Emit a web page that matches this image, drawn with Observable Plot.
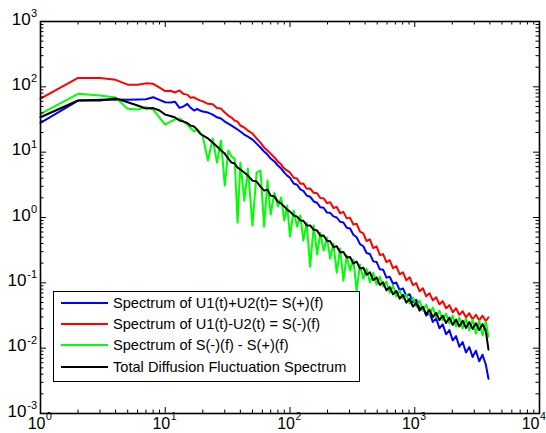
<!DOCTYPE html>
<html>
<head>
<meta charset="utf-8">
<script src="https://cdn.jsdelivr.net/npm/d3@7"></script>
<script src="https://cdn.jsdelivr.net/npm/@observablehq/plot@0.6"></script>
<style>
  html, body { margin: 0; padding: 0; background: white; }
  #wrap { position: relative; width: 546px; height: 433px; overflow: hidden; font-family: "Liberation Sans", Arial, sans-serif; }
  #legend { position: absolute; left: 53px; top: 291px; width: 307px; height: 91px; border: 1px solid black; background: white; box-sizing: border-box; }
  .row { position: absolute; left: 0; height: 20px; display: flex; align-items: center; }
  .sw { width: 47px; height: 0; border-top: 2px solid; margin-left: 7px; margin-right: 5px; }
  .lbl { font-size: 14.6px; color: #000; white-space: nowrap; }
</style>
</head>
<body>
<div id="wrap"><div id="chart"></div><div id="legend"></div></div>
<script>
// Frequency samples (Hz)
const freq = [1,2,3,4,5,6,7,8,9,10,11,12,13,14,15,16,17,18,19,20,
  22,24,26,28,30,32,34,36,38,40,43,46,50,54,58,62,66,70,75,80,85,90,95,
  100,107,114,121,128,136,145,155,165,175,186,198,210,223,237,252,268,285,303,322,342,364,387,411,437,465,494,
  525,558,593,630,670,712,757,805,856,910,967,1028,1093,1162,1235,1313,1396,1484,1577,1677,1783,1895,2015,2142,2277,2421,2573,2736,2908,3092,3287,3494,3715,3900];

// Spectrum of U1(t)+U2(t) = S(+)(f)
const sPlus = [28.1,61.7,63.2,63.9,63.2,63.9,64.6,69.3,63.2,58.1,57.5,58.9,47.7,49.9,54.9,47.7,43.4,46.0,43.4,41.9,
  40.4,37.6,34.2,32.7,29.4,27.4,25.5,23.8,22.2,20.7,18.6,17.3,15.6,13.5,11.8,10.2,9.19,7.98,7.19,6.25,5.61,4.87,4.38,
  4.06,3.32,3.17,2.69,2.56,2.17,2.08,1.76,1.68,1.43,1.41,1.19,1.18,1.04,1.0,0.861,0.839,0.697,0.679,0.544,0.499,0.392,0.363,0.286,0.277,0.213,0.209,
  0.161,0.159,0.12,0.124,0.0967,0.101,0.0776,0.082,0.0628,0.0669,0.0503,0.0548,0.0403,0.0428,0.0315,0.035,0.0252,0.0286,0.0202,0.0231,0.0163,0.0189,0.0131,0.0153,0.0105,0.0124,0.0086,0.0104,0.00734,0.00915,0.0063,0.00794,0.00557,0.0034];

// Spectrum of U1(t)-U2(t) = S(-)(f)
const sMinus = [66,137,137,128,108,108,113,111,97,86,87,82,88,78,76,68,69,65,62,60,
  55,54,47.3,46.5,40.4,36.3,33.9,30.5,29.4,25.6,23.8,21.4,19.3,16.2,14.0,11.8,10.6,9.5,8.3,7.2,6.46,5.61,5.23,
  4.89,4.06,3.95,3.28,3.32,2.76,2.78,2.39,2.35,1.99,1.97,1.66,1.71,1.40,1.45,1.16,1.22,0.97,0.995,0.777,0.805,0.607,0.570,0.437,0.462,0.341,0.361,
  0.267,0.275,0.207,0.222,0.167,0.180,0.135,0.145,0.109,0.122,0.0919,0.0988,0.0742,0.0827,0.0622,0.0694,0.054,0.0603,0.0469,0.0524,0.0408,0.0455,0.0354,0.0409,0.0324,0.0367,0.0297,0.0343,0.0277,0.0325,0.0267,0.0314,0.0258,0.0297];

// Spectrum of S(-)(f) - S(+)(f)
const sDiff = [38.6,78.2,73.6,68.6,46.0,44.9,48.7,44.9,33.9,26.5,29.4,31.6,32.7,29.4,26.5,23.4,20.7,22.2,20.0,17.3,
  7.44,16.2,6.93,15.1,3.08,10.6,8.57,7.98,0.835,6.93,1.81,5.61,0.752,4.87,5.23,0.726,3.67,1.11,2.40,1.47,2.02,0.897,1.52,
  0.510,1.28,0.726,1.07,0.443,0.835,0.177,0.752,0.27,0.587,0.311,0.492,0.235,0.398,0.143,0.334,0.108,0.261,0.154,0.227,0.076,0.19,0.116,0.165,0.101,0.143,0.0942,
  0.124,0.0877,0.105,0.0708,0.0908,0.0615,0.076,0.0574,0.066,0.0484,0.0593,0.0432,0.0535,0.0376,0.0464,0.0338,0.0418,0.0294,0.0376,0.0265,0.0338,0.0238,0.0315,0.0214,0.0294,0.02,0.0283,0.0186,0.0273,0.0167,0.0264,0.0156,0.0255,0.0149];

// Total Diffusion Fluctuation Spectrum
const sTotal = [34.2,61.7,61.7,66.5,58.1,51.7,46.5,47.3,43.4,37.6,35.7,33.9,30.5,29.4,27.9,25.5,24.7,22.2,19.3,18.0,
  16.2,14.0,12.2,10.6,9.52,7.98,6.93,6.70,5.81,5.42,4.87,4.38,3.67,3.55,2.97,2.58,2.67,2.16,2.09,1.75,1.63,1.47,1.32,
  1.23,1.08,1.03,0.901,0.891,0.755,0.755,0.649,0.632,0.525,0.530,0.441,0.434,0.352,0.363,0.295,0.297,0.245,0.249,0.198,0.211,0.165,0.170,0.133,0.145,0.110,0.121,
  0.0929,0.102,0.0769,0.0858,0.0667,0.0752,0.0573,0.0653,0.0498,0.0567,0.0433,0.0493,0.0375,0.0428,0.0332,0.0385,0.0299,0.0347,0.0269,0.0314,0.0243,0.0293,0.0227,0.0273,0.0215,0.0263,0.0204,0.025,0.0197,0.0241,0.019,0.0233,0.0183,0.0095];

const seriesNames = [
  "Spectrum of U1(t)+U2(t)= S(+)(f)",
  "Spectrum of U1(t)-U2(t) = S(-)(f)",
  "Spectrum of S(-)(f) - S(+)(f)",
  "Total Diffusion Fluctuation Spectrum"
];
const seriesColors = ["#0000ff", "#ff0000", "#00ff00", "#000000"];
const seriesValues = [sPlus, sMinus, sDiff, sTotal];

const xMajor = [1, 10, 100, 1000, 10000];
const xExp = ["0", "1", "2", "3", "4"];
const yMajor = [1e-3, 1e-2, 1e-1, 1, 10, 100, 1000];
const yExp = ["-3", "-2", "-1", "0", "1", "2", "3"];
const minorMult = [2, 3, 4, 5, 6, 7, 8, 9];

const data = seriesValues.map((vals, i) => freq.map((f, j) => ({f, v: vals[j], s: seriesNames[i]})));
const xMinor = xMajor.slice(0, -1).flatMap(d => minorMult.map(m => d * m));
const yMinor = yMajor.slice(0, -1).flatMap(d => minorMult.map(m => d * m));

const mL = 40, mR = 7, mT = 21, mB = 20;
const W = 546, H = 433;
const fw = W - mL - mR, fh = H - mT - mB;
const majLen = 6, minLen = 3.5;
const font = "Liberation Sans, Arial, sans-serif";

const xLab = xMajor.map((d, i) => ({d, e: xExp[i], last: i === xMajor.length - 1}));
const yLab = yMajor.map((d, i) => ({d, e: yExp[i], neg: yExp[i].startsWith("-")}));

const xBase = {x: "d", frameAnchor: "bottom", lineAnchor: "top", fill: "black"};

const chart = Plot.plot({
  width: W, height: H,
  marginLeft: mL, marginRight: mR, marginTop: mT, marginBottom: mB,
  x: {type: "log", domain: [1, 1e4], axis: null},
  y: {type: "log", domain: [1e-3, 1e3], axis: null},
  style: {fontFamily: font, background: "white", color: "black", overflow: "visible"},
  marks: [
    ...data.map((d, i) => Plot.line(d, {x: "f", y: "v", stroke: seriesColors[i], strokeWidth: 2, strokeLinejoin: "round"})),
    // ticks bottom/top
    Plot.ruleX(xMajor, {insetTop: fh - majLen, stroke: "black"}),
    Plot.ruleX(xMajor, {insetBottom: fh - majLen, stroke: "black"}),
    Plot.ruleX(xMinor, {insetTop: fh - minLen, stroke: "black"}),
    Plot.ruleX(xMinor, {insetBottom: fh - minLen, stroke: "black"}),
    // ticks left/right
    Plot.ruleY(yMajor, {insetRight: fw - majLen, stroke: "black"}),
    Plot.ruleY(yMajor, {insetLeft: fw - majLen, stroke: "black"}),
    Plot.ruleY(yMinor, {insetRight: fw - minLen, stroke: "black"}),
    Plot.ruleY(yMinor, {insetLeft: fw - minLen, stroke: "black"}),
    Plot.frame({stroke: "black", strokeWidth: 1.6}),
    // x tick labels
    Plot.text(xLab, {...xBase, text: () => "10", textAnchor: "end", dx: 5, dy: 4, fontSize: 16, filter: d => !d.last}),
    Plot.text(xLab, {...xBase, text: "e", textAnchor: "start", dx: 5.5, dy: -0.5, fontSize: 10.5, filter: d => !d.last}),
    Plot.text(xLab, {...xBase, text: () => "10", textAnchor: "end", dx: 0, dy: 4, fontSize: 16, filter: d => d.last}),
    Plot.text(xLab, {...xBase, text: "e", textAnchor: "start", dx: 0.5, dy: -0.5, fontSize: 10.5, filter: d => d.last}),
    // y tick labels
    Plot.text(yLab, {y: "d", frameAnchor: "left", text: () => "10", textAnchor: "end", lineAnchor: "bottom", dx: -9.8, dy: 3, fontSize: 17, fill: "black", filter: d => !d.neg}),
    Plot.text(yLab, {y: "d", frameAnchor: "left", text: () => "10", textAnchor: "end", lineAnchor: "bottom", dx: -14, dy: 3, fontSize: 17, fill: "black", filter: d => d.neg}),
    Plot.text(yLab, {y: "d", frameAnchor: "left", text: "e", textAnchor: "end", lineAnchor: "bottom", dx: -3.5, dy: -4.6, fontSize: 11, fill: "black"})
  ]
});
document.getElementById("chart").appendChild(chart);

const legend = document.getElementById("legend");
const rowTops = [1, 21.5, 43, 64.5];
seriesNames.forEach((name, i) => {
  const row = document.createElement("div");
  row.className = "row";
  row.style.top = rowTops[i] + "px";
  const sw = document.createElement("div");
  sw.className = "sw";
  sw.style.borderTopColor = seriesColors[i];
  const lbl = document.createElement("span");
  lbl.className = "lbl";
  lbl.textContent = name;
  row.appendChild(sw); row.appendChild(lbl);
  legend.appendChild(row);
});
</script>
</body>
</html>
